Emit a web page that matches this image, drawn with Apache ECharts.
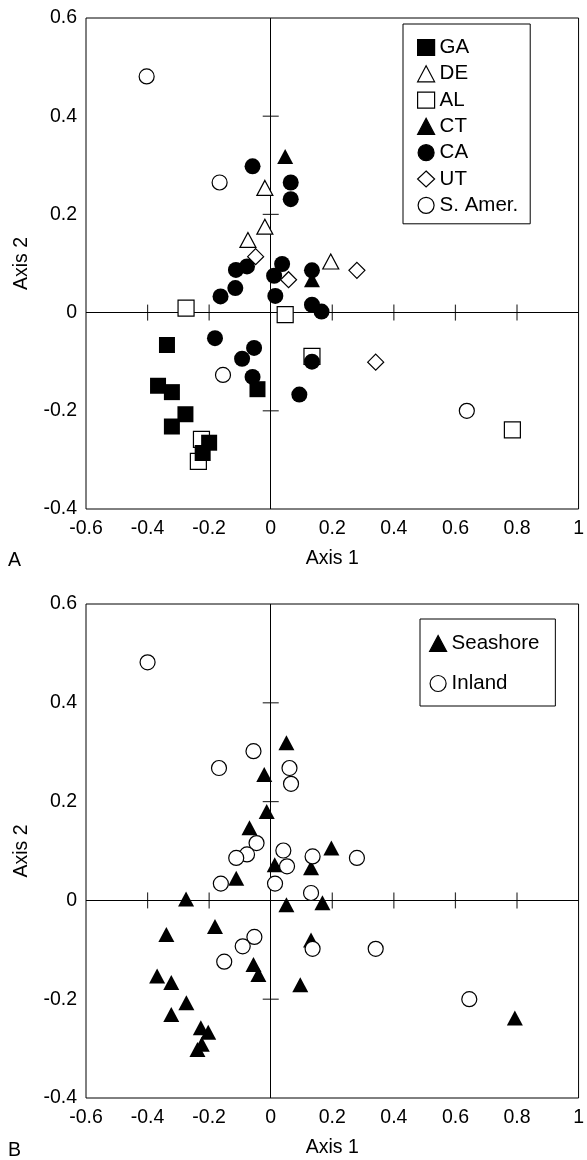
<!DOCTYPE html>
<html>
<head>
    <meta charset="utf-8">
    <title>Axis 1 / Axis 2</title>
    <script src="https://cdn.jsdelivr.net/npm/echarts@6/dist/echarts.min.js"></script>
    <style>
        body { margin: 0; background: #fff; }
        #chart1 { width: 587px; height: 1160px; }
    </style>
</head>
<body>
<div id="chart1"></div>
<script type="text/javascript">
// panel A: [axis1, axis2]
var gaPoints = [[-0.337, -0.066], [-0.043, -0.156], [-0.366, -0.149], [-0.321, -0.162], [-0.277, -0.207], [-0.321, -0.232], [-0.200, -0.265], [-0.221, -0.286]];
var dePoints = [[-0.019, 0.254], [-0.019, 0.175], [-0.074, 0.148], [0.195, 0.104]];
var alPoints = [[-0.275, 0.009], [0.047, -0.004], [-0.225, -0.258], [-0.235, -0.303], [0.134, -0.089], [0.785, -0.239]];
var ctPoints = [[0.047, 0.318], [0.134, 0.067]];
var caPoints = [[-0.059, 0.298], [0.065, 0.265], [0.065, 0.231], [-0.113, 0.087], [-0.077, 0.094], [-0.115, 0.050], [-0.163, 0.033], [0.011, 0.075], [0.037, 0.099], [0.015, 0.034], [0.134, 0.086], [0.134, 0.016], [0.165, 0.002], [-0.181, -0.052], [-0.054, -0.072], [-0.093, -0.094], [-0.059, -0.131], [0.093, -0.167], [0.134, -0.100]];
var utPoints = [[-0.049, 0.114], [0.058, 0.067], [0.280, 0.086], [0.341, -0.101]];
var samPoints = [[-0.403, 0.481], [-0.166, 0.265], [-0.155, -0.127], [0.637, -0.200]];

// panel B
var seashorePoints = [[0.051, 0.319], [-0.021, 0.255], [-0.013, 0.180], [-0.069, 0.147], [0.197, 0.106], [0.013, 0.072], [0.131, 0.066], [-0.112, 0.045], [-0.275, 0.003], [0.051, -0.009], [0.168, -0.005], [-0.181, -0.053], [-0.339, -0.069], [-0.056, -0.130], [-0.040, -0.150], [-0.369, -0.153], [-0.323, -0.166], [-0.274, -0.207], [-0.323, -0.231], [-0.227, -0.258], [-0.203, -0.267], [-0.224, -0.291], [-0.238, -0.302], [0.131, -0.080], [0.096, -0.171], [0.793, -0.238]];
var inlandPoints = [[-0.400, 0.482], [-0.168, 0.268], [-0.056, 0.302], [0.061, 0.268], [0.066, 0.236], [-0.046, 0.116], [-0.077, 0.093], [-0.112, 0.086], [0.041, 0.101], [0.053, 0.069], [0.136, 0.089], [-0.162, 0.034], [0.014, 0.034], [0.131, 0.015], [0.280, 0.086], [-0.053, -0.074], [-0.091, -0.093], [-0.151, -0.124], [0.136, -0.098], [0.341, -0.098], [0.645, -0.200]];

// crossing ticks on the zero lines
var xTicks = [-0.4, -0.2, 0.2, 0.4, 0.6, 0.8];
var yTicks = [0.4, 0.2, -0.2];

var font = 'Liberation Sans, Arial, sans-serif';
var fs = 19.5;
var legendFs = 20.5;

var myChart1 = echarts.init(document.getElementById('chart1'));

function filled(name, symbol, size, data, grid) {
    return {
        name: name, type: 'scatter', xAxisIndex: grid, yAxisIndex: grid, z: 10,
        symbol: symbol, symbolSize: size, data: data,
        itemStyle: { color: '#000', borderColor: '#000', borderWidth: 0, opacity: 1 }
    };
}
function hollow(name, symbol, size, data, grid) {
    return {
        name: name, type: 'scatter', xAxisIndex: grid, yAxisIndex: grid, z: 10,
        symbol: symbol, symbolSize: size, data: data,
        itemStyle: { color: '#fff', borderColor: '#000', borderWidth: 1.2, opacity: 1 }
    };
}
function zeroCross(grid) {
    var list = [];
    xTicks.forEach(function (v) { list.push({ value: [v, 0], symbolSize: [1.2, 16] }); });
    yTicks.forEach(function (v) { list.push({ value: [0, v], symbolSize: [16, 1.2] }); });
    return {
        type: 'scatter', xAxisIndex: grid, yAxisIndex: grid, z: 1, silent: true,
        symbol: 'rect', data: list,
        itemStyle: { color: '#000' },
        markLine: {
            z: 1, silent: true, symbol: ['none', 'none'], animation: false,
            label: { show: false },
            lineStyle: { color: '#000', width: 1, type: 'solid' },
            data: [{ xAxis: 0 }, { yAxis: 0 }]
        }
    };
}
function xAx(grid) {
    return {
        gridIndex: grid, type: 'value', min: -0.6, max: 1, interval: 0.2,
        name: 'Axis 1', nameLocation: 'middle', nameGap: 40,
        nameTextStyle: { color: '#000', fontSize: fs, fontFamily: font },
        axisLine: { show: false, onZero: false }, axisTick: { show: false }, splitLine: { show: false },
        axisLabel: { color: '#000', fontSize: fs, fontFamily: font, margin: 10 }
    };
}
function yAx(grid) {
    return {
        gridIndex: grid, type: 'value', min: -0.4, max: 0.6, interval: 0.2,
        name: 'Axis 2', nameLocation: 'middle', nameGap: 54,
        nameTextStyle: { color: '#000', fontSize: fs, fontFamily: font },
        axisLine: { show: false, onZero: false }, axisTick: { show: false }, splitLine: { show: false },
        axisLabel: { color: '#000', fontSize: fs, fontFamily: font, margin: 9 }
    };
}

myChart1.setOption({
    animation: false,
    backgroundColor: '#fff',
    textStyle: { fontFamily: font },
    grid: [
        { left: 86, top: 18, width: 500, height: 491, show: true, borderColor: '#000', borderWidth: 1 },
        { left: 86, top: 604, width: 500, height: 494, show: true, borderColor: '#000', borderWidth: 1 }
    ],
    xAxis: [xAx(0), xAx(1)],
    yAxis: [yAx(0), yAx(1)],
    legend: [{
        data: ['GA', 'DE', 'AL', 'CT', 'CA', 'UT', 'S. Amer.'],
        orient: 'vertical', left: 403, top: 24,
        padding: [13, 12, 8, 14], itemGap: 5.3, itemWidth: 17, itemHeight: 16, itemTextGap: 21,
        borderColor: '#000', borderWidth: 1,
        itemStyle: { borderWidth: 1.2 },
        textStyle: { color: '#000', fontSize: legendFs, fontFamily: font, lineHeight: 19 }
    }, {
        data: ['Seashore', 'Inland'],
        orient: 'vertical', left: 420, top: 619,
        padding: [14, 16, 12, 9], itemGap: 19, itemWidth: 17, itemHeight: 16, itemTextGap: 19,
        borderColor: '#000', borderWidth: 1,
        itemStyle: { borderWidth: 1.2 },
        textStyle: { color: '#000', fontSize: legendFs, fontFamily: font, lineHeight: 19 }
    }],
    graphic: [
        { type: 'text', left: 8, top: 551, style: { text: 'A', fill: '#000', fontSize: fs, fontFamily: font } },
        { type: 'text', left: 8, top: 1141, style: { text: 'B', fill: '#000', fontSize: fs, fontFamily: font } }
    ],
    series: [
        zeroCross(0),
        hollow('AL', 'rect', 16, alPoints, 0),
        filled('GA', 'rect', 16, gaPoints, 0),
        hollow('DE', 'triangle', [16, 15], dePoints, 0),
        filled('CT', 'triangle', [16, 15], ctPoints, 0),
        filled('CA', 'circle', 16, caPoints, 0),
        hollow('UT', 'diamond', [16, 16], utPoints, 0),
        hollow('S. Amer.', 'circle', 15, samPoints, 0),
        zeroCross(1),
        filled('Seashore', 'triangle', [16, 15], seashorePoints, 1),
        hollow('Inland', 'circle', 15, inlandPoints, 1)
    ]
});
</script>
</body>
</html>
